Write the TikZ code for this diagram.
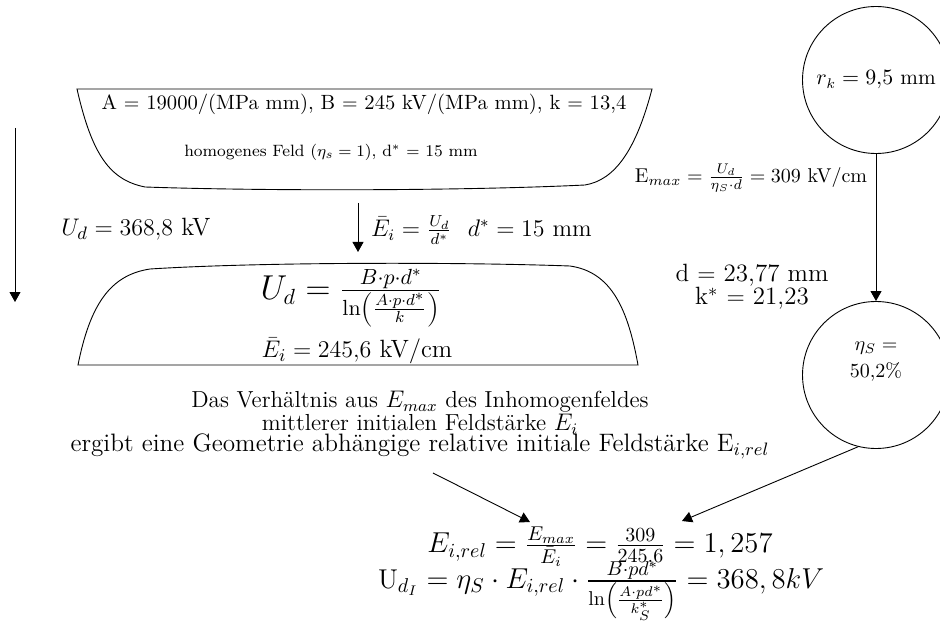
\documentclass[tikz,border=0pt]{standalone}
\usepackage{amsmath}
\usetikzlibrary{arrows.meta}
\begin{document}
\begin{tikzpicture}[x=0.5pt,y=-0.5pt,
  arr/.style={-{Triangle[length=5pt,width=5.5pt]}, line width=0.45pt},
  bowl/.style={draw, line width=0.45pt},
  circ/.style={draw, circle, minimum size=73.5pt, inner sep=0pt, line width=0.45pt},
  ftopa/.style={font=\fontsize{10.3}{11}\selectfont},
  ftopb/.style={font=\fontsize{8.2}{10}\selectfont},
  fmid/.style={font=\fontsize{12.5}{11.5}\selectfont},
  flab/.style={font=\fontsize{12}{11.5}\selectfont},
  fbig/.style={font=\fontsize{16}{15}\selectfont},
  fbot/.style={font=\fontsize{14}{14}\selectfont},
  fbotb/.style={font=\fontsize{13.6}{14}\selectfont},
  ftxt/.style={font=\fontsize{11.6}{10.3}\selectfont, align=center},
  fsmall/.style={font=\fontsize{10.6}{13.5}\selectfont},
  femax/.style={font=\fontsize{10}{11}\selectfont}
]
\useasboundingbox (0,0) rectangle (940,625);

% top bowl
\draw[bowl] (77,89) -- (652,89) .. controls (636,150) and (615,180) .. (585,185)
  .. controls (460,191) and (260,191) .. (145,187)
  .. controls (110,180) and (92,155) .. (77,89) -- cycle;
\node[ftopa] (t1) at (364,104) {A $=$ 19000/(MPa mm), B $=$ 245 kV/(MPa mm), k $=$ 13,4};
\node[ftopb] (t2) at (331,152) {homogenes Feld ($\eta_s = 1$), d$^*$ $=$ 15 mm};

% left arrow and U_d
\coordinate (la1) at (15,128);
\coordinate (la2) at (15,302);
\draw[arr] (la1) -- (la2);
\node[fmid] (ud) at (136,229) {$U_d = 368{,}8$ kV};

% middle arrow
\coordinate (ma1) at (358,203);
\coordinate (ma2) at (358,252);
\draw[arr] (ma1) -- (ma2);
\node[flab, anchor=west] (ei) at (364,230) {$\bar{E}_i = \frac{U_d}{d^*}$\hspace{8pt}$d^* = 15$ mm};

% lower bowl
\draw[bowl] (78,365) .. controls (90,305) and (110,275) .. (150,269)
  .. controls (260,262) and (460,262) .. (570,266)
  .. controls (612,272) and (628,310) .. (638,365) -- cycle;
\node[fbig] (udf) at (351,298) {$U_d = \frac{B\cdot p\cdot d^*}{\ln\left(\frac{A\cdot p\cdot d^*}{k}\right)}$};
\node[fmid] (eib) at (357,351) {$\bar{E}_i = 245{,}6$ kV/cm};

% circles
\node[circ, fsmall] (c1) at (876,80) {$r_k = 9{,}5$ mm};
\node[circ] (c2) at (876,375) {};
\node[font=\fontsize{10}{13.5}\selectfont, align=center] (c2t) at (876,362) {$\eta_S =$\\50,2\%};
\draw[arr] (c1.south) -- (c2.north);
\node[femax] (emax) at (751,178) {E$_{max} = \frac{U_d}{\eta_S\cdot d} = 309$ kV/cm};
\node[fmid, align=center] (dk) at (752,287) {d $=$ 23,77 mm\\k$^*$ $=$ 21,23};

% explanatory text
\node[ftxt] (txt) at (420,425) {Das Verh\"altnis aus $E_{max}$ des Inhomogenfeldes\\mittlerer initialen Feldst\"arke $E_i$\\[-1.5pt]{\fontsize{12.6}{10.3}\selectfont ergibt eine Geometrie abh\"angige relative initiale Feldst\"arke E$_{i,rel}$}};

% bottom formulas
\node[fbot] (erel) at (600,547) {$E_{i,rel} = \frac{E_{max}}{\bar{E}_i} = \frac{309}{245{,}6} = 1,257$};
\node[fbotb] (udi) at (601,591) {U$_{d_I} = \eta_S\cdot E_{i,rel}\cdot\frac{B\cdot pd^*}{\ln\left(\frac{A\cdot pd^*}{k_S^*}\right)} = 368,8kV$};

\coordinate (a1s) at (433,473);
\coordinate (a1e) at (530,522);
\coordinate (a2e) at (682,521);
\draw[arr] (a1s) -- (a1e);
\draw[arr] (c2.256) -- (a2e);
\end{tikzpicture}
\end{document}
